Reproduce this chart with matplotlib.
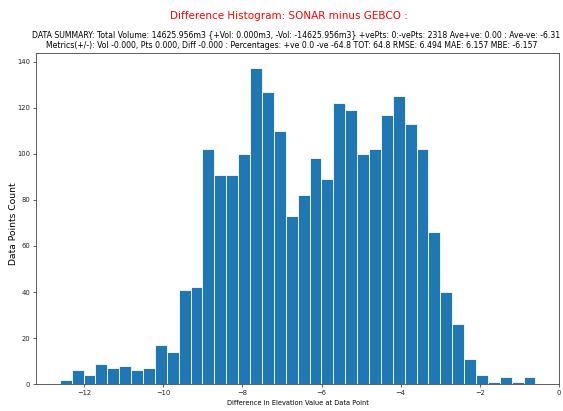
import numpy as np
import matplotlib
matplotlib.use("Agg")
import matplotlib.pyplot as plt

# histogram counts (40 bins)
counts = [2, 6, 4, 9, 7, 8, 6, 7, 17, 14,
          41, 42, 102, 91, 91, 100, 137, 127, 110, 73,
          82, 98, 89, 122, 119, 100, 102, 117, 125, 113,
          102, 66, 40, 26, 11, 4, 1, 3, 1, 3]
diff_min = -12.62
diff_max = -0.59

title = "Difference Histogram: SONAR minus GEBCO :"
summary1 = ("DATA SUMMARY: Total Volume: 14625.956m3 {+Vol: 0.000m3, -Vol: -14625.956m3} "
            "+vePts: 0:-vePts: 2318 Ave+ve: 0.00 : Ave-ve: -6.31")
summary2 = ("Metrics(+/-): Vol -0.000, Pts 0.000, Diff -0.000 : Percentages: +ve 0.0 -ve -64.8 "
            "TOT: 64.8 RMSE: 6.494 MAE: 6.157 MBE: -6.157")

edges = np.linspace(diff_min, diff_max, len(counts) + 1)

fig = plt.figure(figsize=(5.63, 4.11), dpi=100)
ax = fig.add_axes([0.0639, 0.065, 0.9295, 0.8068])

ax.hist(edges[:-1], bins=edges, weights=counts, color='#1f77b4',
        edgecolor='white', linewidth=0.6)

ax.set_xticks([-12, -10, -8, -6, -4, -2, 0])
ax.tick_params(labelsize=4.9, length=2, width=0.5, pad=2.2, colors='#222222')
for s in ax.spines.values():
    s.set_linewidth(0.6)
    s.set_color('#444444')

ax.set_xlabel("Difference in Elevation Value at Data Point", fontsize=4.8)
ax.xaxis.set_label_coords(0.5, -0.047)
ax.set_ylabel("Data Points Count", fontsize=6.6)
ax.yaxis.set_label_coords(-0.034, 0.485)

# title block (positioned by hand, the long first line runs off the right edge)
fig.text(0.514, 0.953, title, color='red', fontsize=7.5, ha='center', va='baseline')
fig.text(0.0563, 0.9098, summary1, fontsize=5.6, ha='left', va='baseline')
fig.text(0.518, 0.8842, summary2, fontsize=5.6, ha='center', va='baseline')

fig.savefig("out.png", dpi=100)
